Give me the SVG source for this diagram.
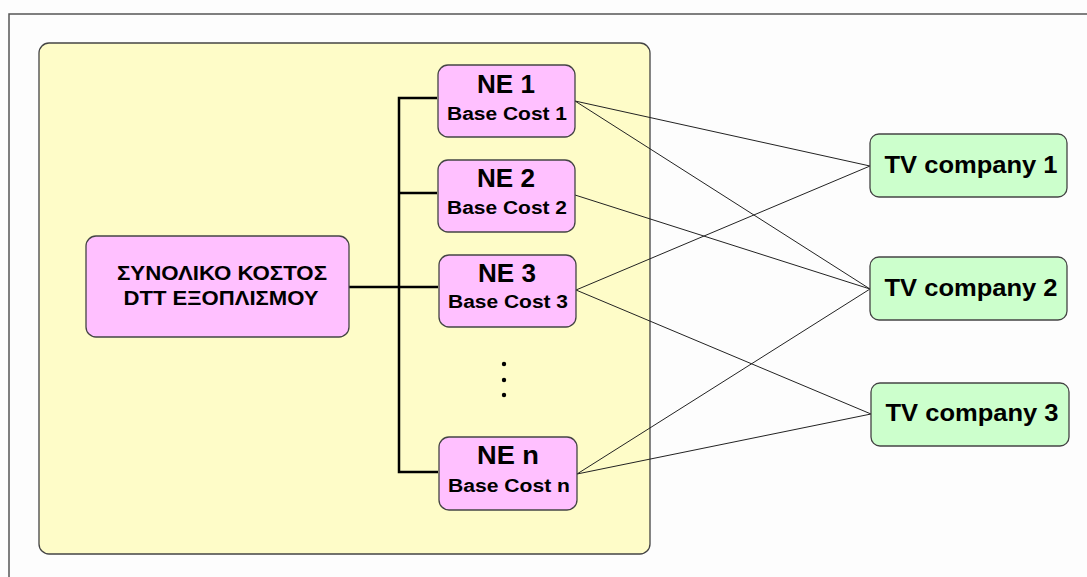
<svg xmlns="http://www.w3.org/2000/svg" width="1087" height="577" viewBox="0 0 1087 577">
<style>
.t{font-family:"Liberation Sans",Arial,sans-serif;font-weight:bold;fill:#000;text-anchor:middle}
.ne{fill:#ffc0ff;stroke:#444;stroke-width:1.3}
.tv{fill:#ccffcc;stroke:#444;stroke-width:1.3}
.bus{fill:none;stroke:#000;stroke-width:2.5}
.ln{stroke:#222;stroke-width:1;fill:none}
</style>
<rect width="1087" height="577" fill="#fdfdfd"/>
<polyline points="9,577 9,14 1087,14" fill="none" stroke="#555" stroke-width="1.5"/>
<g id="panel"><rect x="39" y="43" width="611" height="511" rx="10" fill="#fefcc8" stroke="#444" stroke-width="1.3"/></g>
<g id="connectors">
<path class="bus" d="M349,287H399M437,98H399V472H438M399,193H437M399,287H438"/>
<line class="ln" x1="575" y1="101" x2="870" y2="166"/>
<line class="ln" x1="575" y1="101" x2="870" y2="289"/>
<line class="ln" x1="575" y1="195" x2="870" y2="289"/>
<line class="ln" x1="576" y1="290" x2="870" y2="166"/>
<line class="ln" x1="576" y1="290" x2="871" y2="414"/>
<line class="ln" x1="577" y1="474" x2="870" y2="289"/>
<line class="ln" x1="577" y1="474" x2="871" y2="414"/>
</g>
<g id="total">
<rect class="ne" x="86" y="236" width="263" height="101" rx="10"/>
<text class="t" x="222" y="280" font-size="20" textLength="210" lengthAdjust="spacingAndGlyphs">ΣΥΝΟΛΙΚΟ  ΚΟΣΤΟΣ</text>
<text class="t" x="221" y="305" font-size="20" textLength="195" lengthAdjust="spacingAndGlyphs">DTT ΕΞΟΠΛΙΣΜΟΥ</text>
</g>
<g id="ne1">
<rect class="ne" x="438" y="65" width="137" height="72" rx="10"/>
<text class="t" x="506" y="93" font-size="25" textLength="58" lengthAdjust="spacingAndGlyphs">NE 1</text>
<text class="t" x="507" y="120" font-size="18" textLength="120" lengthAdjust="spacingAndGlyphs">Base Cost 1</text>
</g>
<g id="ne2">
<rect class="ne" x="438" y="160" width="137" height="72" rx="10"/>
<text class="t" x="506" y="187" font-size="25" textLength="58" lengthAdjust="spacingAndGlyphs">NE 2</text>
<text class="t" x="507" y="214" font-size="18" textLength="120" lengthAdjust="spacingAndGlyphs">Base Cost 2</text>
</g>
<g id="ne3">
<rect class="ne" x="439" y="255" width="137" height="72" rx="10"/>
<text class="t" x="507" y="282" font-size="25" textLength="58" lengthAdjust="spacingAndGlyphs">NE 3</text>
<text class="t" x="508" y="308" font-size="18" textLength="120" lengthAdjust="spacingAndGlyphs">Base Cost 3</text>
</g>
<g id="dots" fill="#000">
<circle cx="504" cy="364" r="2.2"/><circle cx="504" cy="380" r="2.2"/><circle cx="504" cy="395" r="2.2"/>
</g>
<g id="nen">
<rect class="ne" x="439" y="437" width="138" height="73" rx="10"/>
<text class="t" x="508" y="464" font-size="25" textLength="62" lengthAdjust="spacingAndGlyphs">NE  n</text>
<text class="t" x="509" y="492" font-size="18" textLength="122" lengthAdjust="spacingAndGlyphs">Base Cost n</text>
</g>
<g id="tv1">
<rect class="tv" x="870" y="134" width="197" height="63" rx="9"/>
<text class="t" x="971" y="173" font-size="24" textLength="173" lengthAdjust="spacingAndGlyphs">TV company 1</text>
</g>
<g id="tv2">
<rect class="tv" x="870" y="257" width="197" height="63" rx="9"/>
<text class="t" x="971" y="296" font-size="24" textLength="173" lengthAdjust="spacingAndGlyphs">TV company 2</text>
</g>
<g id="tv3">
<rect class="tv" x="871" y="383" width="198" height="63" rx="9"/>
<text class="t" x="972" y="421" font-size="24" textLength="173" lengthAdjust="spacingAndGlyphs">TV company 3</text>
</g>
</svg>
